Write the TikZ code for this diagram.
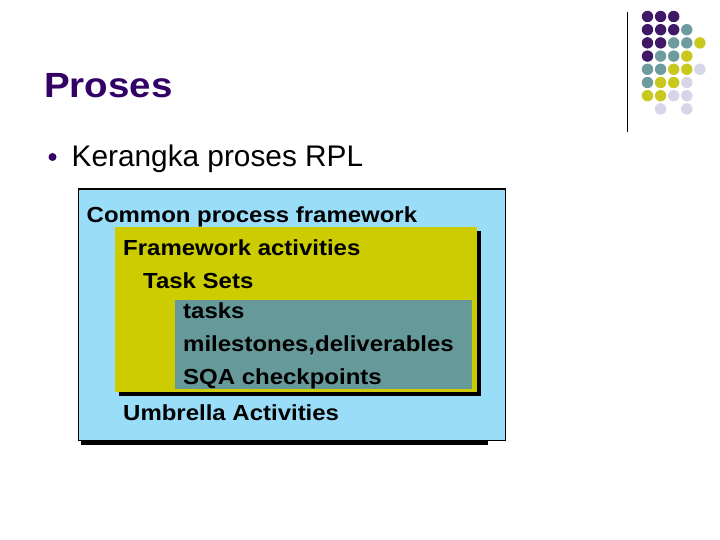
\documentclass[tikz,border=0pt]{standalone}
\usepackage{fontspec}
\setmainfont{Liberation Sans}
\newfontfamily\widefont[FakeStretch=1.1]{Liberation Sans}
\definecolor{titlepurple}{HTML}{330066}
\definecolor{dotP}{HTML}{3F1866}
\definecolor{dotT}{HTML}{6E9C9E}
\definecolor{dotY}{HTML}{C8C81E}
\definecolor{dotL}{HTML}{D6D6E8}
\definecolor{skyfill}{HTML}{99DDF8}
\definecolor{oliveFill}{HTML}{CCCC00}
\definecolor{tealFill}{HTML}{669999}
\tikzset{
  boxtext/.style={anchor=base west, inner sep=0pt, font=\widefont\bfseries\fontsize{21.8}{24}\selectfont, text=black},
  dot/.style={circle, inner sep=0pt, minimum size=11.4pt},
}
\begin{document}
\begin{tikzpicture}[x=1pt,y=-1pt]
\useasboundingbox (0,0) rectangle (720,540);
\fill[white] (0,0) rectangle (720,540);
% logo
\draw[line width=1pt] (627,12) coordinate (vlA) -- (627,132) coordinate (vlB);
\foreach \c/\r/\col [count=\i] in {
 0/0/dotP,1/0/dotP,2/0/dotP,
 0/1/dotP,1/1/dotP,2/1/dotP,3/1/dotT,
 0/2/dotP,1/2/dotP,2/2/dotT,3/2/dotT,4/2/dotY,
 0/3/dotP,1/3/dotT,2/3/dotT,3/3/dotY,
 0/4/dotT,1/4/dotT,2/4/dotY,3/4/dotY,4/4/dotL,
 0/5/dotT,1/5/dotY,2/5/dotY,3/5/dotL,
 0/6/dotY,1/6/dotY,2/6/dotL,3/6/dotL,
 1/7/dotL,3/7/dotL}
 \node[dot, fill=\col] (d\i) at ({647.5+13.1*\c},{16.5+13.2*\r}) {};
% title
\node[anchor=base west, inner sep=0pt, text=titlepurple, font=\widefont\bfseries\fontsize{35}{40}\selectfont] (title) at (44,97.3) {Proses};
\node[circle, fill=titlepurple, inner sep=0pt, minimum size=8pt] (bullet) at (52.5,157) {};
\node[anchor=base west, inner sep=0pt, font=\fontsize{29.8}{34}\selectfont] (item) at (71.5,166.7) {Kerangka proses RPL};
% outer box
\fill[black] (81,439) rectangle (488,444.5);
\node[draw=black, line width=1.6pt, fill=skyfill, anchor=north west, minimum width=427pt, minimum height=251pt, inner sep=0pt] (outer) at (77.5,188.5) {};
% yellow box with shadow
\fill[black] (119,231) rectangle (481,396);
\node[fill=oliveFill, anchor=north west, minimum width=362pt, minimum height=165pt, inner sep=0pt] (fw) at (115,227) {};
% teal box
\node[fill=tealFill, anchor=north west, minimum width=297pt, minimum height=89pt, inner sep=0pt] (tasksbox) at (175,300) {};
% texts
\node[boxtext] (t1) at (86.5,222.5) {Common process framework};
\node[boxtext] (t2) at (123,255) {Framework activities};
\node[boxtext] (t3) at (143,288) {Task Sets};
\node[boxtext] (t4) at (183,318.5) {tasks};
\node[boxtext] (t5) at (183,351.5) {milestones,deliverables};
\node[boxtext] (t6) at (183,384) {SQA checkpoints};
\node[boxtext] (t7) at (123,420) {Umbrella Activities};
\end{tikzpicture}
\end{document}
